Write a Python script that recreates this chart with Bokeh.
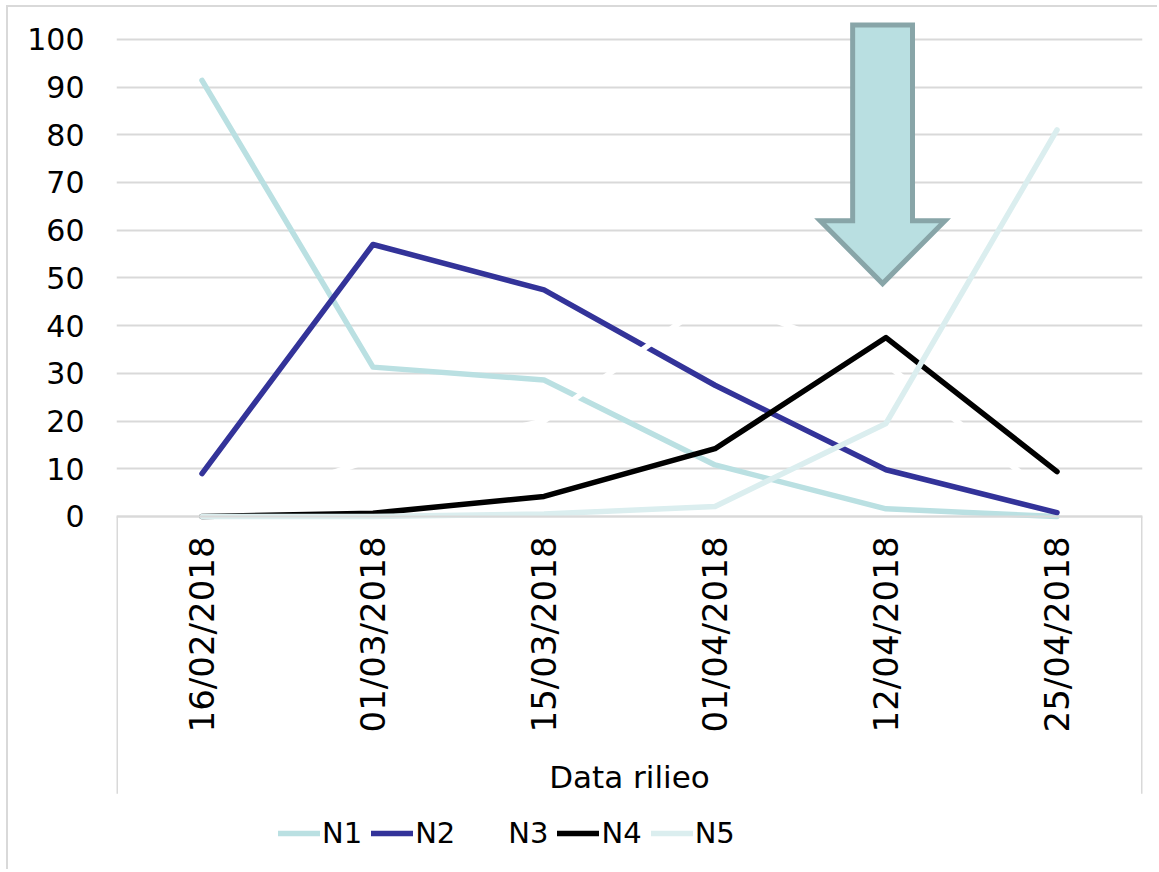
import math
from bokeh.plotting import figure
from bokeh.models import Range1d, FixedTicker, Legend, LegendItem, ColumnDataSource
from bokeh.embed import file_html
from bokeh.resources import INLINE

# ---------------- data ----------------
categories = ["16/02/2018", "01/03/2018", "15/03/2018", "01/04/2018", "12/04/2018", "25/04/2018"]
N1 = [91.4, 31.3, 28.6, 10.8, 1.6, 0.0]
N2 = [9.0, 57.0, 47.5, 27.5, 9.8, 0.8]
N3 = [0.0, 12.0, 20.0, 46.0, 32.0, 3.0]
N4 = [0.0, 0.7, 4.2, 14.2, 37.5, 9.4]
N5 = [0.0, 0.0, 0.5, 2.1, 19.5, 81.0]
y_ticks = [0, 10, 20, 30, 40, 50, 60, 70, 80, 90, 100]
series_names = ["N1", "N2", "N3", "N4", "N5"]
x_title = "Data rilieo"

# arrow annotation (category it points at, values in y units)
arrow_category = "12/04/2018"
arrow_top, arrow_neck, arrow_tip = 103.0, 62.0, 48.8

# ---------------- styles / layout ----------------
colors = ["#bae0e2", "#333399", "#ffffff", "#000000", "#dbeeef"]
FONT = "DejaVu Sans"
GRID = "#d9d9d9"
W, H = 1151, 864
Y_START, Y_END = -74.4, 105.2      # frame runs down to the canvas bottom
AXIS_BOX_BOTTOM = -58.1            # bottom of the category-axis box sides

xs = list(range(len(categories)))
x0, x1 = -0.5, len(categories) - 0.5

p = figure(width=W, height=H,
           x_range=Range1d(x0, x1), y_range=Range1d(Y_START, Y_END),
           output_backend="svg", toolbar_location=None,
           min_border_left=108, min_border_right=17,
           min_border_top=7, min_border_bottom=0)
p.outline_line_color = None
p.background_fill_color = "white"
p.border_fill_color = "white"
p.styles = {"border-left": "2px solid #d9d9d9", "border-top": "2px solid #d9d9d9",
            "margin-left": "6px", "margin-top": "5px"}

# grid
p.xgrid.visible = False
p.ygrid.grid_line_color = GRID
p.ygrid.grid_line_width = 2
p.ygrid.ticker = FixedTicker(ticks=y_ticks)

# y axis
p.yaxis.ticker = FixedTicker(ticks=y_ticks)
p.yaxis.axis_line_color = None
p.yaxis.major_tick_line_color = None
p.yaxis.minor_tick_line_color = None
p.yaxis.major_tick_out = 0
p.yaxis.major_tick_in = 0
p.yaxis.major_label_text_font = FONT
p.yaxis.major_label_text_font_size = "30px"
p.yaxis.major_label_text_color = "black"
p.yaxis.major_label_standoff = 32

# x axis (sits at y = 0 inside the frame)
p.xaxis.fixed_location = 0
p.xaxis.ticker = FixedTicker(ticks=xs, minor_ticks=[])
p.xaxis.major_label_overrides = {i: c for i, c in zip(xs, categories)}
p.xaxis.axis_line_color = GRID
p.xaxis.axis_line_width = 2
p.xaxis.major_tick_line_color = None
p.xaxis.minor_tick_line_color = None
p.xaxis.major_tick_out = 0
p.xaxis.major_tick_in = 0
p.xaxis.major_label_orientation = math.pi / 2
p.xaxis.major_label_text_font = FONT
p.xaxis.major_label_text_font_size = "34px"
p.xaxis.major_label_text_color = "black"
p.xaxis.major_label_standoff = 20
p.xaxis.axis_label = x_title
p.xaxis.axis_label_text_font = FONT
p.xaxis.axis_label_text_font_size = "31px"
p.xaxis.axis_label_text_font_style = "normal"
p.xaxis.axis_label_text_color = "black"
p.xaxis.axis_label_standoff = 24

# sides of the category-axis box
p.segment(x0=[x0, x1], y0=[0, 0], x1=[x0, x1], y1=[AXIS_BOX_BOTTOM, AXIS_BOX_BOTTOM],
          line_color=GRID, line_width=3)

# series
renderers = []
for name, vals, col in zip(series_names, [N1, N2, N3, N4, N5], colors):
    src = ColumnDataSource(dict(x=xs, y=vals))
    r = p.line("x", "y", source=src, line_color=col, line_width=5.5,
               line_cap="round", line_join="round")
    renderers.append(r)

# arrow
cx = categories.index(arrow_category) - 0.02
sw, hw = 0.175, 0.365
ax = [cx - sw, cx + sw, cx + sw, cx + hw, cx, cx - hw, cx - sw]
ay = [arrow_top, arrow_top, arrow_neck, arrow_neck, arrow_tip, arrow_neck, arrow_neck]
p.patch(ax, ay, fill_color="#b9dfe1", line_color="#88a5a8", line_width=5, line_join="miter")

# legend
legend = Legend(items=[LegendItem(label=n, renderers=[r]) for n, r in zip(series_names, renderers)],
                location=(162, 21), orientation="horizontal",
                glyph_width=42, label_standoff=2, spacing=9, padding=0, margin=0,
                border_line_color=None, background_fill_alpha=0,
                label_text_font=FONT, label_text_font_size="29px", label_text_color="black")
p.add_layout(legend)

open("out.html", "w").write(file_html(p, INLINE))
